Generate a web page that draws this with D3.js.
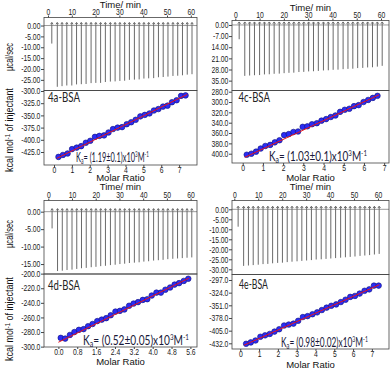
<!DOCTYPE html>
<html>
<head>
<meta charset="utf-8">
<script src="https://cdn.jsdelivr.net/npm/d3@7"></script>
<style>
  body { margin: 0; background: #fff; }
  svg { display: block; }
  .tick line { stroke: #444; }
  .tick text { font-family: "Liberation Sans", Arial, sans-serif; font-size: 8.5px; fill: #1a1a1a; }
</style>
</head>
<body>
<div id="chart"></div>
<script>
// injection times (min), shared by the four titrations
const injTime = [1.6, 3.9, 5.9, 7.9, 10.0, 12.0, 14.0, 16.0, 18.1, 20.1, 22.1, 24.1, 26.2, 28.2, 30.2,
                 32.2, 34.2, 36.3, 38.3, 40.3, 42.3, 44.4, 46.4, 48.4, 50.4, 52.5, 54.5, 56.5, 58.5, 60.5];

// raw heat-flow peak depths (µcal/sec), one per injection
const peak4a = [-8.3, -28.2, -27.9, -27.6, -27.6, -27.1, -27.0, -26.9, -26.5, -26.4, -26.4, -26.0, -25.8, -25.7, -25.5,
                -25.4, -25.0, -24.9, -24.8, -24.4, -24.3, -24.2, -23.8, -23.7, -23.5, -23.2, -23.1, -22.9, -22.6, -22.4];
const peak4c = [-9.0, -32.0, -31.8, -31.6, -31.5, -31.1, -31.0, -30.7, -30.6, -30.3, -30.1, -30.0, -29.6, -29.5, -29.2,
                -29.1, -28.9, -28.6, -28.5, -28.2, -28.1, -27.8, -27.6, -27.5, -27.1, -27.0, -26.7, -26.6, -26.2, -25.7];
const peak4d = [-4.8, -17.0, -16.9, -16.7, -16.6, -16.4, -16.2, -16.1, -15.9, -15.8, -15.6, -15.5, -15.3, -15.2, -15.0,
                -14.9, -14.7, -14.6, -14.5, -14.3, -14.2, -14.0, -13.9, -13.8, -13.6, -13.5, -13.4, -13.3, -13.2, -13.1];
const peak4e = [-8.7, -28.3, -28.1, -27.9, -27.7, -27.4, -27.3, -27.0, -26.8, -26.7, -26.4, -26.2, -26.0, -25.8, -25.6,
                -25.4, -25.1, -25.0, -24.8, -24.6, -24.4, -24.2, -24.0, -23.8, -23.6, -23.3, -23.1, -22.9, -22.6, -22.3];

// integrated heats (kcal/mol of injectant) vs molar ratio
const ratio4a = [0.25, 0.50, 0.76, 1.01, 1.27, 1.52, 1.78, 2.03, 2.29, 2.54, 2.80, 3.05, 3.30, 3.56, 3.81,
                 4.07, 4.32, 4.57, 4.83, 5.08, 5.34, 5.59, 5.84, 6.10, 6.35, 6.60, 6.86, 7.11, 7.36];
const heat4a = [-435, -431, -428, -419, -416, -413, -406, -402, -394, -392, -391, -385, -378, -375, -374,
                -368, -364, -359, -352, -349, -346, -340, -337, -332, -330, -323, -319, -310, -309];
const ratio4c = [0.20, 0.43, 0.66, 0.89, 1.12, 1.36, 1.59, 1.82, 2.05, 2.28, 2.51, 2.74, 2.97, 3.20, 3.43,
                 3.67, 3.90, 4.13, 4.36, 4.59, 4.82, 5.05, 5.28, 5.51, 5.74, 5.98, 6.21, 6.44, 6.67];
const heat4c = [-402, -400, -396, -390, -385, -383, -378, -374, -364, -362, -358, -357, -348, -347, -343,
                -341, -336, -333, -329, -326, -319, -315, -313, -308, -306, -300, -296, -292, -288];
const ratio4d = [0.10, 0.29, 0.49, 0.68, 0.87, 1.07, 1.26, 1.45, 1.65, 1.84, 2.03, 2.22, 2.42, 2.61, 2.80,
                 3.00, 3.19, 3.38, 3.58, 3.77, 3.96, 4.16, 4.35, 4.54, 4.74, 4.93, 5.12, 5.32, 5.51];
const heat4d = [-288, -289, -284, -280, -277, -276, -272, -269, -265, -263, -261, -257, -252, -251, -249,
                -244, -241, -239, -236, -235, -230, -226, -226, -222, -219, -215, -213, -210, -207];
const ratio4e = [0.31, 0.56, 0.81, 1.07, 1.32, 1.57, 1.82, 2.07, 2.33, 2.58, 2.83, 3.08, 3.33, 3.58, 3.84,
                 4.09, 4.34, 4.59, 4.84, 5.10, 5.35, 5.60, 5.85, 6.10, 6.35, 6.61, 6.86, 7.11, 7.36];
const heat4e = [-433, -430, -426, -418, -415, -412, -407, -402, -394, -392, -390, -384, -376, -374, -370,
                -366, -361, -356, -352, -349, -344, -339, -333, -331, -326, -320, -317, -309, -309];

// fitted curves
const fitRatio4a = [0.15, 7.45], fitHeat4a = [-438, -307];
const fitRatio4c = [0.10, 6.75], fitHeat4c = [-407, -286];
const fitRatio4d = [0.00, 5.55], fitHeat4d = [-294, -206];
const fitRatio4e = [0.20, 7.40], fitHeat4e = [-436, -307];

// tick values
const timeTicks = [0, 10, 20, 30, 40, 50, 60];
const rawTicks4a = [0, -5, -10, -15, -20, -25];
const rawTicks4c = [0, -7, -14, -21, -28, -35];
const rawTicks4d = [0, -5, -10, -15];
const rawTicks4e = [0, -5, -10, -15, -20, -25, -30];
const heatTicks4a = [-300, -325, -350, -375, -400, -425];
const heatTicks4c = [-280, -300, -320, -340, -360, -380, -400];
const heatTicks4d = [-200, -220, -240, -260, -280, -300];
const heatTicks4e = [-297, -324, -351, -378, -405, -432];
const ratioTicks = [0, 1, 2, 3, 4, 5, 6, 7];
const ratioTicks4d = [0, 0.8, 1.6, 2.4, 3.2, 4.0, 4.8, 5.6];

const labels = ["4a-BSA", "4c-BSA", "4d-BSA", "4e-BSA"];
const kaValues = ["1.19\u00b10.1", "1.03\u00b10.1", "0.52\u00b10.05", "0.98\u00b10.02"];

const W = 392, H = 369;

const panels = [
  { left: 44, right: 197, top: 17.5, mid: 90.5, bottom: 165,
    timeDom: [-1.68, 62.6], rawDom: [-29.9, 3.7], ratioDom: [-0.56, 8.0], heatDom: [-451.6, -299],
    peaks: peak4a, ratio: ratio4a, heat: heat4a, fitR: fitRatio4a, fitH: fitHeat4a,
    rawTicks: rawTicks4a, heatTicks: heatTicks4a, ratioTicks: ratioTicks, ratioFmt: d => d,
    name: labels[0], ka: kaValues[0], nameX: 48, nameY: 102, nameW: 32,
    kaX: 76, kaY: 161.5, kaW: 73, timeTitleY: 8.3, ratioTitleY: 181, clipX: null,
    yTitles: true, muY: 57, kcalY: 130 },
  { left: 232, right: 389, top: 20.5, mid: 90.5, bottom: 163,
    timeDom: [-1.36, 63.3], rawDom: [-41.2, 2.8], ratioDom: [-0.53, 7.24], heatDom: [-418, -277.7],
    peaks: peak4c, ratio: ratio4c, heat: heat4c, fitR: fitRatio4c, fitH: fitHeat4c,
    rawTicks: rawTicks4c, heatTicks: heatTicks4c, ratioTicks: ratioTicks, ratioFmt: d => d,
    name: labels[1], ka: kaValues[1], nameX: 238.5, nameY: 101.5, nameW: 31.5,
    kaX: 269, kaY: 160.5, kaW: 98, timeTitleY: 10.5, ratioTitleY: 180.5, clipX: 211.5, yTitles: false },
  { left: 44, right: 197, top: 200.5, mid: 274, bottom: 347,
    timeDom: [-1.81, 62.7], rawDom: [-17.85, 3.2], ratioDom: [-0.61, 5.88], heatDom: [-300.5, -200.5],
    peaks: peak4d, ratio: ratio4d, heat: heat4d, fitR: fitRatio4d, fitH: fitHeat4d,
    rawTicks: rawTicks4d, heatTicks: heatTicks4d, ratioTicks: ratioTicks4d, ratioFmt: d => d.toFixed(1),
    name: labels[2], ka: kaValues[2], nameX: 48, nameY: 290, nameW: 32,
    kaX: 83, kaY: 344.5, kaW: 106, timeTitleY: 190.2, ratioTitleY: 364.5, clipX: null,
    yTitles: true, muY: 234, kcalY: 319 },
  { left: 232, right: 389, top: 200.5, mid: 274.5, bottom: 349,
    timeDom: [-0.96, 64.6], rawDom: [-32.6, 4.4], ratioDom: [-0.44, 7.91], heatDom: [-444.1, -285.3],
    peaks: peak4e, ratio: ratio4e, heat: heat4e, fitR: fitRatio4e, fitH: fitHeat4e,
    rawTicks: rawTicks4e, heatTicks: heatTicks4e, ratioTicks: ratioTicks, ratioFmt: d => d,
    name: labels[3], ka: kaValues[3], nameX: 239, nameY: 289, nameW: 29,
    kaX: 281, kaY: 346.5, kaW: 87, timeTitleY: 190.2, ratioTitleY: 367.8, clipX: 204, yTitles: false }
];

const svg = d3.select("#chart").append("svg")
    .attr("width", W)
    .attr("height", H);
const defs = svg.append("defs");

// squeeze a text element horizontally so it spans the given width
function fitText(t, x, y, width, rotate) {
  const w = t.node().getComputedTextLength();
  const k = width / w;
  t.attr("transform", "translate(" + x + "," + y + ")" + (rotate ? " rotate(-90)" : "") + " scale(" + k + ",1)");
}

function squeezeTicks(sel) {
  sel.select(".domain").remove();
  sel.selectAll(".tick text").attr("transform", "scale(0.8,1)");
}

panels.forEach(function(p, k) {
  const g = svg.append("g");
  if (p.clipX != null) {
    defs.append("clipPath").attr("id", "clip" + k)
      .append("rect").attr("x", p.clipX).attr("y", 0).attr("width", W - p.clipX).attr("height", H);
    g.attr("clip-path", "url(#clip" + k + ")");
  }

  const xT = d3.scaleLinear().domain(p.timeDom).range([p.left, p.right]);
  const yU = d3.scaleLinear().domain(p.rawDom).range([p.mid, p.top]);
  const xM = d3.scaleLinear().domain(p.ratioDom).range([p.left, p.right]);
  const yL = d3.scaleLinear().domain(p.heatDom).range([p.bottom, p.mid]);

  // baseline + injection peaks
  g.append("line")
      .attr("x1", p.left).attr("x2", p.right)
      .attr("y1", yU(0)).attr("y2", yU(0))
      .attr("stroke", "#9a9a9a").attr("stroke-width", 1);

  const peaks = g.append("g").attr("fill", "none").attr("stroke", "#6a6a6a").attr("stroke-width", 1);
  p.peaks.forEach(function(v, i) {
    const x = xT(injTime[i]), y0 = yU(0);
    peaks.append("path")
        .attr("d", "M" + x + "," + (y0 - 3) + "L" + x + "," + yU(v));
    peaks.append("path")
        .attr("d", "M" + (x - 1.3) + "," + (y0 - 1.3) + "L" + x + "," + (y0 - 3) + "L" + (x + 1.3) + "," + (y0 - 1.3));
  });

  // frames
  g.append("rect").attr("x", p.left).attr("y", p.top)
      .attr("width", p.right - p.left).attr("height", p.mid - p.top)
      .attr("fill", "none").attr("stroke", "#444").attr("stroke-width", 0.8);
  g.append("rect").attr("x", p.left).attr("y", p.mid)
      .attr("width", p.right - p.left).attr("height", p.bottom - p.mid)
      .attr("fill", "none").attr("stroke", "#444").attr("stroke-width", 0.8);

  // axes
  g.append("g")
      .attr("transform", "translate(0," + p.top + ")")
      .call(d3.axisTop(xT).tickValues(timeTicks).tickSize(2).tickPadding(0.3))
      .call(squeezeTicks);
  g.append("g")
      .attr("transform", "translate(" + p.left + ",0)")
      .call(d3.axisLeft(yU).tickValues(p.rawTicks).tickSize(3).tickPadding(1.5).tickFormat(d => d.toFixed(2)))
      .call(squeezeTicks);
  g.append("g")
      .attr("transform", "translate(" + p.left + ",0)")
      .call(d3.axisLeft(yL).tickValues(p.heatTicks).tickSize(3).tickPadding(1.5).tickFormat(d => d.toFixed(1)))
      .call(squeezeTicks);
  g.append("g")
      .attr("transform", "translate(0," + p.bottom + ")")
      .call(d3.axisBottom(xM).tickValues(p.ratioTicks).tickSize(2).tickPadding(0).tickFormat(p.ratioFmt))
      .call(squeezeTicks);

  // integrated heats and fit
  g.append("g").selectAll("circle")
      .data(p.ratio.map((r, i) => [r, p.heat[i]]))
      .join("circle")
      .attr("cx", d => xM(d[0]))
      .attr("cy", d => yL(d[1]))
      .attr("r", 2.8)
      .attr("fill", "#2a2cf5")
      .attr("stroke", "#10107a")
      .attr("stroke-width", 0.6);

  g.append("path")
      .datum(p.fitR.map((r, i) => [r, p.fitH[i]]))
      .attr("fill", "none")
      .attr("stroke", "#e8141c")
      .attr("stroke-width", 1)
      .attr("d", d3.line().x(d => xM(d[0])).y(d => yL(d[1])));

  // titles
  const cx = (p.left + p.right) / 2;
  g.append("text").attr("x", cx).attr("y", p.timeTitleY)
      .attr("text-anchor", "middle")
      .style("font-family", "'Liberation Sans', Arial, sans-serif").style("font-size", "9.5px")
      .attr("fill", "#111").text("Time/ min");
  g.append("text").attr("x", cx).attr("y", p.ratioTitleY)
      .attr("text-anchor", "middle")
      .style("font-family", "'Liberation Sans', Arial, sans-serif").style("font-size", "9.5px")
      .attr("fill", "#111").text("Molar Ratio");

  const nm = g.append("text")
      .style("font-family", "Lato, 'Open Sans', sans-serif").style("font-size", "13px")
      .attr("fill", "#222").text(p.name);
  fitText(nm, p.nameX, p.nameY, p.nameW, false);

  const ka = g.append("text")
      .style("font-family", "Lato, 'Open Sans', sans-serif").style("font-size", "13px")
      .attr("fill", "#1a1a3a");
  ka.append("tspan").text("K");
  ka.append("tspan").attr("dy", 2.5).style("font-size", "9px").text("a");
  ka.append("tspan").attr("dy", -2.5).text("= (" + p.ka + ")x10");
  ka.append("tspan").attr("dy", -4.5).style("font-size", "8px").text("3");
  ka.append("tspan").attr("dy", 4.5).text("M");
  ka.append("tspan").attr("dy", -4.5).style("font-size", "8px").text("-1");
  fitText(ka, p.kaX, p.kaY, p.kaW, false);

  if (p.yTitles) {
    const t1 = g.append("text")
        .style("font-family", "'Liberation Sans', Arial, sans-serif").style("font-size", "10px")
        .attr("fill", "#111").text("\u00b5cal/sec");
    fitText(t1, 13, p.muY + 14, 28, true);
    const t2 = g.append("text")
        .style("font-family", "'Liberation Sans', Arial, sans-serif").style("font-size", "10px")
        .attr("fill", "#111");
    t2.append("tspan").text("kcal mol");
    t2.append("tspan").attr("dy", -3.5).style("font-size", "6.5px").text("-1");
    t2.append("tspan").attr("dy", 3.5).text(" of injectant");
    fitText(t2, 13, p.kcalY + 42, 84, true);
  }
});
</script>
</body>
</html>
